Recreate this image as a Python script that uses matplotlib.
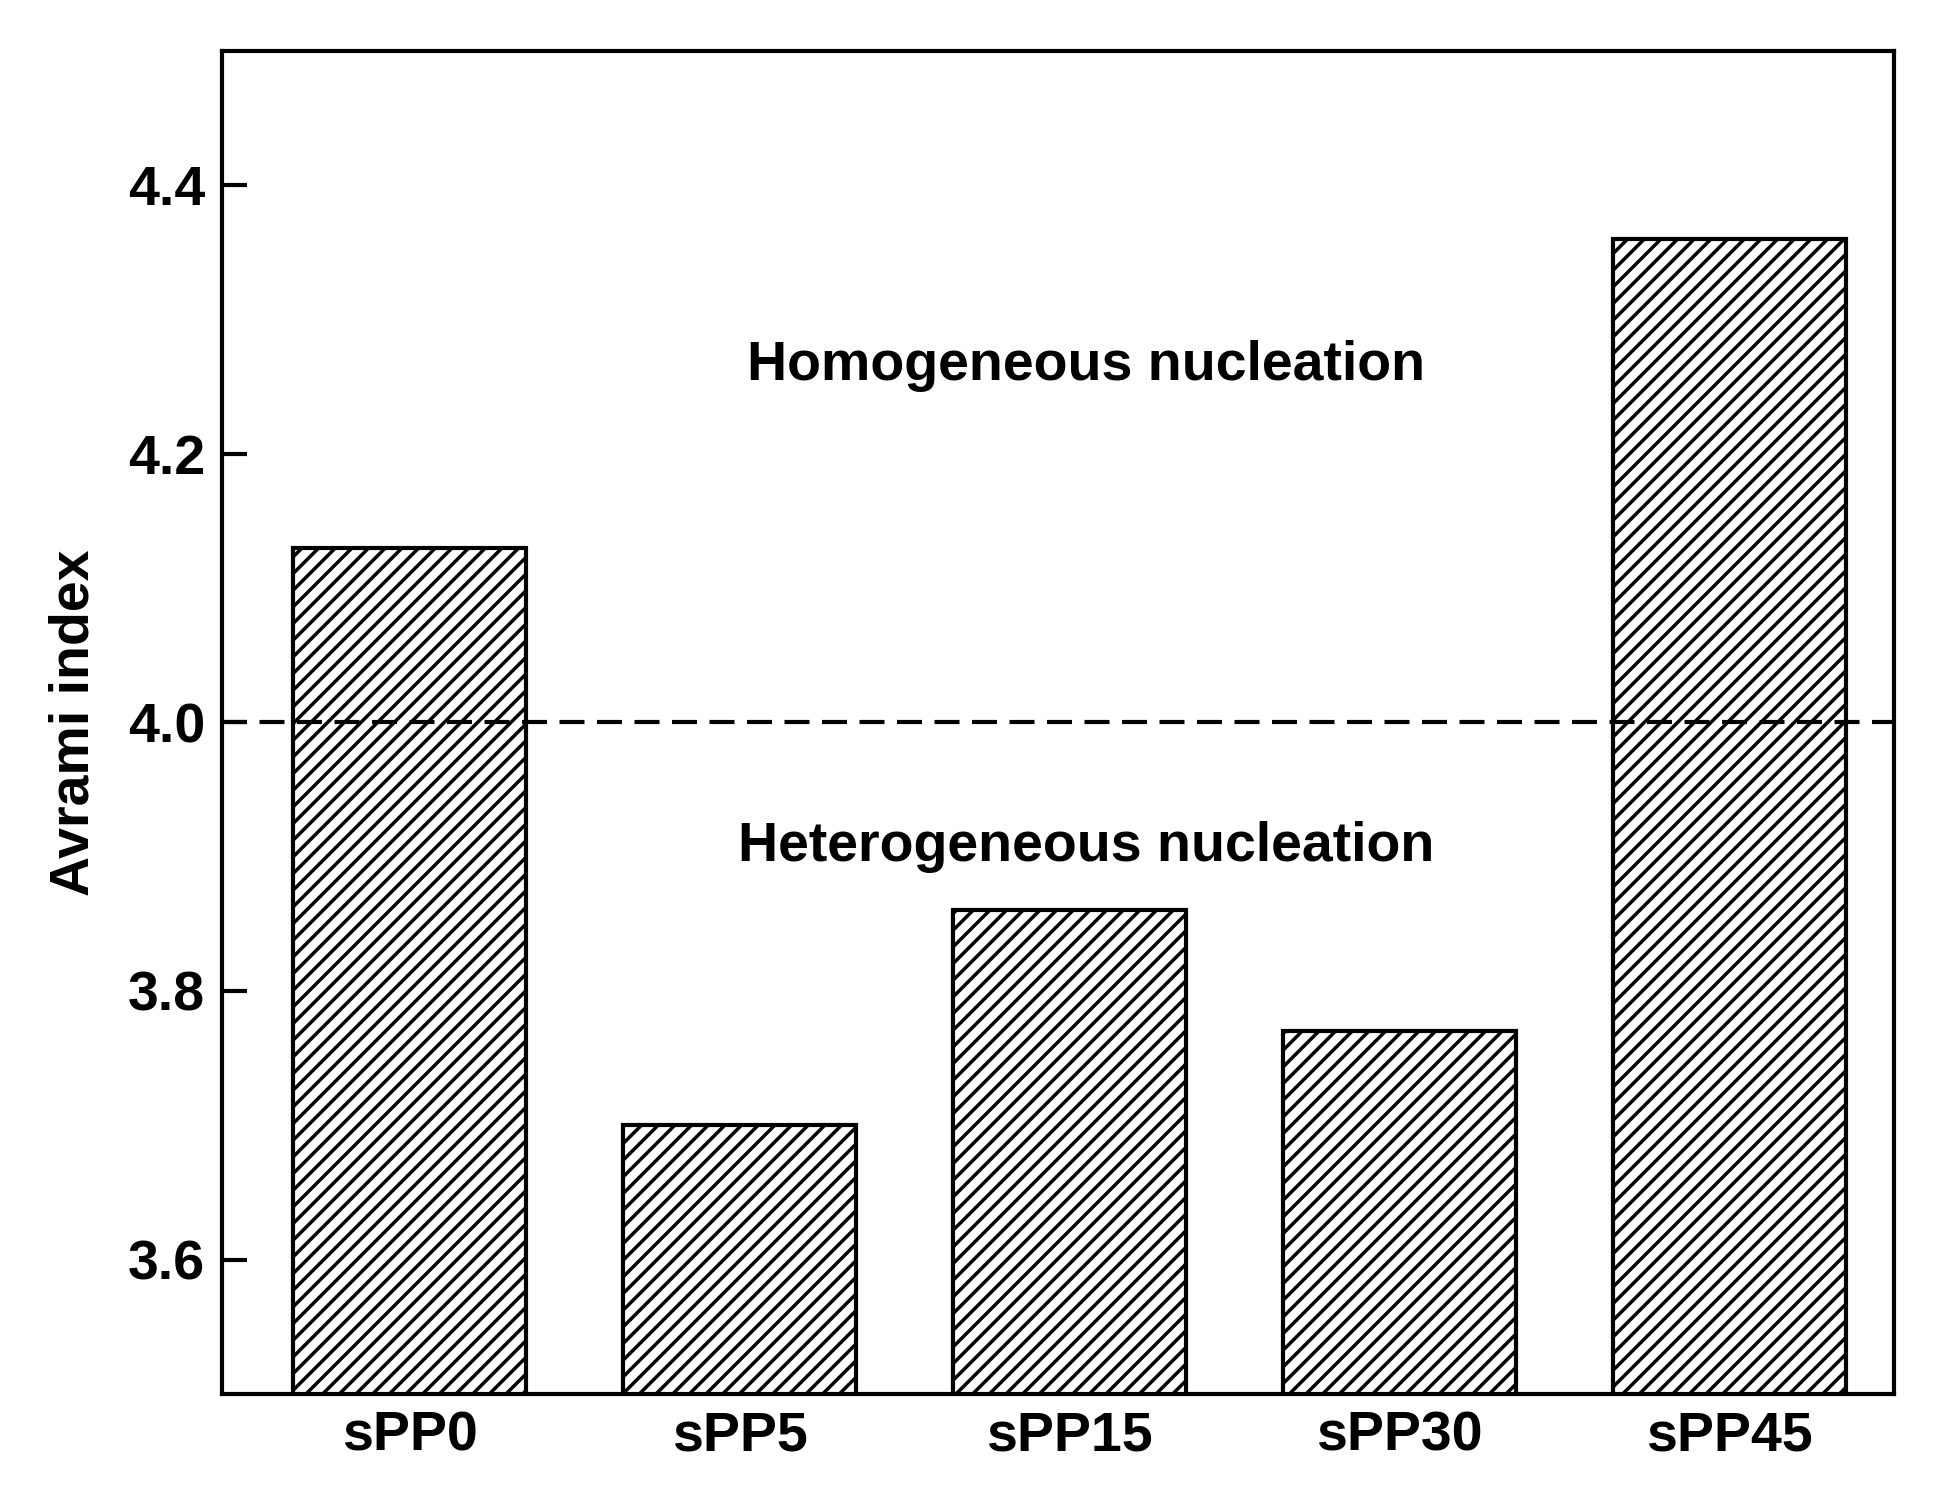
import matplotlib
matplotlib.use("Agg")
import matplotlib.pyplot as plt

samples = ["sPP0", "sPP5", "sPP15", "sPP30", "sPP45"]
avrami = [4.13, 3.70, 3.86, 3.77, 4.36]
yticks = [3.6, 3.8, 4.0, 4.2, 4.4]

plt.rcParams["font.family"] = ["Liberation Sans", "DejaVu Sans"]
plt.rcParams["font.weight"] = "bold"
plt.rcParams["hatch.linewidth"] = 2.5

fig = plt.figure(figsize=(19.45, 14.94), dpi=100)
ax = fig.add_axes([0.114, 0.067, 0.86, 0.899])

x = range(len(samples))
ax.bar(x, avrami, width=0.705, bottom=0, color="white", edgecolor="black",
       linewidth=3, hatch="//")
ax.axhline(4.0, color="black", linestyle=(0, (6, 3)), linewidth=3)

ax.set_xlim(-0.57, 4.5)
ax.set_ylim(3.5, 4.5)
ax.set_xticks(list(x))
ax.set_xticklabels(samples, fontsize=40, fontweight="bold")
ax.set_yticks(yticks)
ax.set_yticklabels([f"{v:.1f}" for v in yticks], fontsize=40, fontweight="bold")
ax.tick_params(axis="x", length=0, pad=12)
ax.tick_params(axis="y", direction="in", length=18, width=3, pad=12)
for s in ax.spines.values():
    s.set_linewidth(3)
ax.set_ylabel("Avrami index", fontsize=40, fontweight="bold", labelpad=20)

ax.text(2.05, 4.265, "Homogeneous nucleation", fontsize=40, fontweight="bold",
        ha="center", va="center")
ax.text(2.05, 3.907, "Heterogeneous nucleation", fontsize=40, fontweight="bold",
        ha="center", va="center")

fig.savefig("out.png", dpi=100)
